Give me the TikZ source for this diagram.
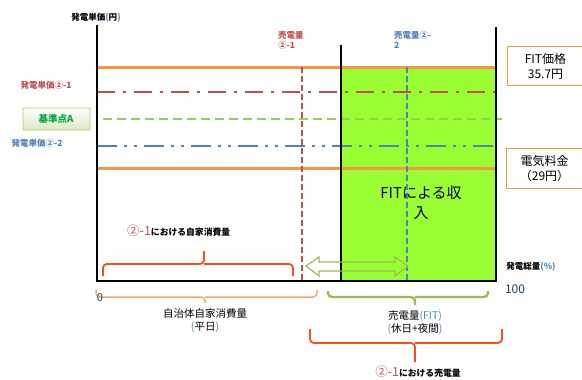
\documentclass[tikz,border=0pt]{standalone}
\usepackage{fontspec}
\setmainfont{Noto Sans CJK JP}
\usetikzlibrary{shadings}
\definecolor{fitgreen}{HTML}{99FF33}
\definecolor{oline}{HTML}{F79646}
\definecolor{rline}{HTML}{C0504D}
\definecolor{gline}{HTML}{92D050}
\definecolor{bline}{HTML}{4F81BD}
\definecolor{olive}{HTML}{9BBB59}
\definecolor{bracered}{HTML}{FF4A1C}
\definecolor{braceorange}{HTML}{F9A86A}
\definecolor{darkblue}{HTML}{1F3864}
\definecolor{labgreen}{HTML}{00A83C}
\tikzset{
  axisline/.style={line width=2pt,black},
  orangeline/.style={line width=3pt,oline},
  reddd/.style={line width=2pt,rline,dash pattern=on 18pt off 8pt on 3pt off 8pt},
  greendash/.style={line width=2pt,gline,dash pattern=on 9pt off 5pt},
  bluedd/.style={line width=2pt,bline,dash pattern=on 20pt off 7pt on 3pt off 7pt on 3pt off 7pt},
  vreddash/.style={line width=1.8pt,rline,dash pattern=on 6pt off 3pt},
  vbluedash/.style={line width=1.8pt,bline,dash pattern=on 6pt off 3pt},
  bracestyle/.style={line width=1.8pt,rounded corners=4pt},
  tinylab/.style={font=\fontsize{8.5}{10}\selectfont\bfseries},
  boxlab/.style={draw=oline,line width=1pt,fill=white,font=\fontsize{12}{15}\selectfont,align=center,inner sep=0pt},
  botlab/.style={font=\fontsize{10.5}{13}\selectfont,align=center},
}
\begin{document}
\begin{tikzpicture}[x=1pt,y=-1pt]
\useasboundingbox (0,0) rectangle (582,380);
% green area
\fill[fitgreen] (341,67) rectangle (495,281);
% horizontal lines
\draw[orangeline] (97,67) -- (496,67);
\draw[orangeline] (97,168) -- (496,168);
\draw[reddd] (97,92) -- (496,92);
\draw[greendash] (103,119) -- (502,119);
\draw[bluedd] (97,146) -- (496,146);
% vertical dashed
\draw[vreddash] (302,67) -- (302,280);
\draw[vbluedash] (407,67) -- (407,280);
% axes
\draw[axisline] (97,25) -- (97,281) -- (496,281) -- (496,27);
\draw[axisline] (341,45) -- (341,281);
% hollow double arrow
\draw[olive,line width=1.2pt,line join=miter]
  (306,266) -- (319,257) -- (319,262) -- (395,262) -- (395,257) -- (408,266)
  -- (395,276) -- (395,271) -- (319,271) -- (319,276) -- cycle;
% braces
\draw[bracestyle,bracered] (103,276) |- (204,264) -- (204,251);
\draw[bracestyle,bracered] (204,264) -| (293,276);
\draw[bracestyle,braceorange,line width=1.5pt] (96,290) |- (205,297) -- (205,303);
\draw[bracestyle,braceorange,line width=1.5pt] (205,297) -| (317,290);
\draw[bracestyle,olive,line width=2.4pt] (328,291) |- (415,297) -- (415,305);
\draw[bracestyle,olive,line width=2.4pt] (415,297) -| (488,291);
\draw[bracestyle,bracered] (310,329) |- (415,343) -- (415,362);
\draw[bracestyle,bracered] (415,343) -| (502,329);
% labels left
\node[tinylab] (yaxis) at (96,18) {発電単価\textcolor{bline}{(}円\textcolor{bline}{)}};
\node[tinylab,text=rline] (p21) at (46,85) {発電単価②-1};
\shade[draw=olive!80,line width=0.8pt,top color=white,bottom color=olive!35,rounded corners=1pt] (23,108) rectangle (90,130);
\node[text=labgreen,font=\fontsize{9.5}{11}\selectfont\bfseries] (kijun) at (56,119) {基準点A};
\node[tinylab,text=bline] (p22) at (37,143) {発電単価②-2};
% top labels
\node[tinylab,text=rline,anchor=north west,align=left,inner sep=0pt] (s21) at (278,31) {売電量\\②-1};
\node[tinylab,text=bline,anchor=north west,align=left,inner sep=0pt] (s22) at (394,31) {売電量②-\\2};
% right boxes
\node[boxlab,minimum width=76pt,minimum height=39pt,anchor=north west] (fitbox) at (507,46) {FIT価格\\35.7円};
\node[boxlab,minimum width=76pt,minimum height=40pt,anchor=north west] (denki) at (506,148) {電気料金\\（29円）};
% FIT income
\node[font=\fontsize{15}{20}\selectfont,align=center] (income) at (421,203) {FITによる収\\入};
% self consumption label
\node[anchor=west,inner sep=0pt] (selfc) at (127,231) {\textcolor{rline}{\fontsize{12.5}{13}\selectfont ②-1}\fontsize{8.8}{10}\selectfont\bfseries における自家消費量};
% axis labels
\node[text=darkblue,font=\fontsize{11}{12}\selectfont] (zero) at (100,298) {0};
\node[tinylab] (total) at (531,267) {発電総量\textcolor{bline}{(\%)}};
\node[text=darkblue,font=\fontsize{12}{13}\selectfont] (hundred) at (515,289) {100};
% bottom labels
\node[botlab] (jichi) at (205,321) {自治体自家消費量\\\textcolor{bline}{(}平日\textcolor{bline}{)}};
\node[botlab] (baiden) at (415,323) {売電量\textcolor{bline}{(FIT)}\\\textcolor{bline}{(}休日+夜間\textcolor{bline}{)}};
\node[anchor=center,inner sep=0pt] (sell) at (418,372) {\textcolor{rline}{\fontsize{12.5}{13}\selectfont ②-1}\fontsize{8.8}{10}\selectfont\bfseries における売電量};
\end{tikzpicture}
\end{document}
